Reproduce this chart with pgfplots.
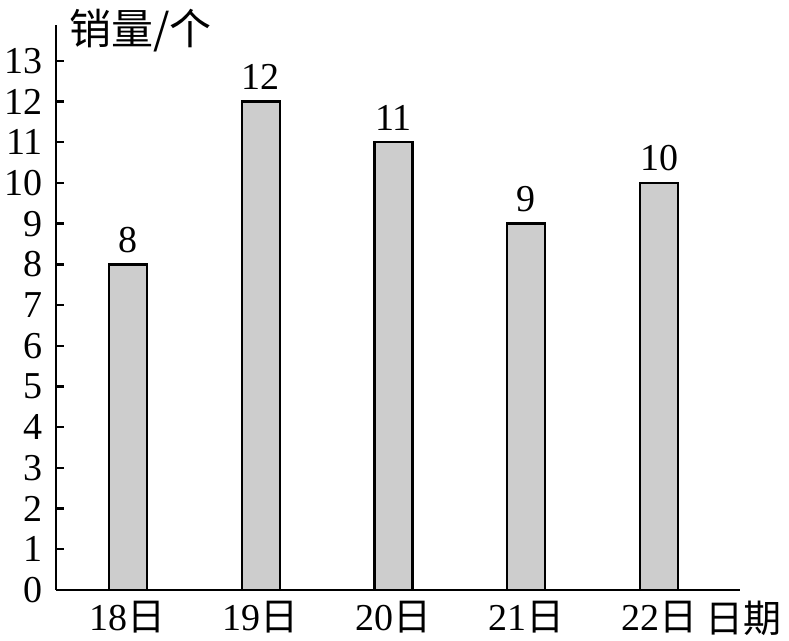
\documentclass[border=0pt]{standalone}
\usepackage{pgfplots}
\pgfplotsset{compat=1.18}
\usepackage{fontspec}
\setmainfont{Liberation Serif}
\newfontfamily\cjk{Noto Sans CJK SC}
\definecolor{barfill}{RGB}{205,205,205}

\begin{document}
\begin{tikzpicture}
\begin{axis}[
    name=ax,
    scale only axis,
    width=342pt, height=282.5pt,
    xmin=-0.542, xmax=4.61,
    ymin=0, ymax=13.88,
    axis lines*=left,
    axis line style={line width=1.2pt},
    ytick={0,1,...,13},
    xtick={0,1,2,3,4},
    xticklabels={18{\cjk 日},19{\cjk 日},20{\cjk 日},21{\cjk 日},22{\cjk 日}},
    tick align=inside,
    major tick length=4pt,
    ytick style={line width=1.2pt, black},
    xtick style={draw=none},
    ticklabel style={font=\fontsize{19}{19}\selectfont},
    yticklabel style={xshift=-3pt},
    xticklabel style={yshift=-2pt},
    /pgf/number format/assume math mode=true,
    xlabel={\cjk 日期},
    xlabel style={at={(rel axis cs:1,0)}, anchor=north east, xshift=24.5pt, yshift=-2pt,
        font=\fontsize{19}{19}\selectfont},
    ylabel={\cjk 销量/个},
    ylabel style={at={(rel axis cs:0,1)}, anchor=west, rotate=-90, xshift=3pt, yshift=-3pt,
        font=\fontsize{21}{21}\selectfont},
    clip=false,
    ]
    \addplot[ybar, bar width=19pt, fill=barfill, draw=black, line width=1.2pt,
        nodes near coords,
        nodes near coords style={font=\fontsize{19}{19}\selectfont, yshift=2pt},
    ] coordinates {
    (0,8) (1,12) (2,11) (3,9) (4,10)
    };
\end{axis}
\pgfresetboundingbox
\path ([shift={(-28pt,-25.5pt)}]ax.south west) rectangle ([shift={(366.5pt,295pt)}]ax.south west);
\end{tikzpicture}
\end{document}
